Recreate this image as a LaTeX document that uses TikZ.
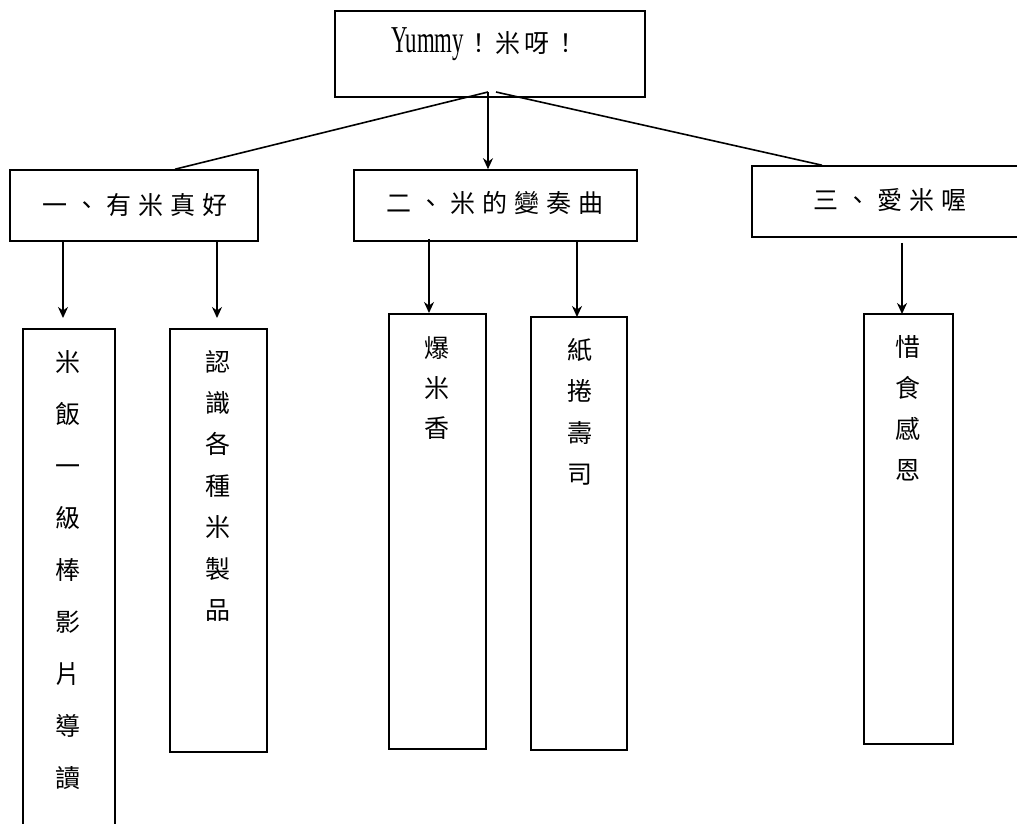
\documentclass[tikz,border=0pt]{standalone}
\usepackage{fontspec}
\setmainfont{Liberation Serif}
\newfontfamily\cjk{Noto Sans CJK TC}
\usetikzlibrary{arrows.meta}
\newcommand\cg{\kern7pt}
\tikzset{
  box/.style={draw, line width=1.6pt, fill=white, inner sep=0pt},
  conn/.style={line width=1.6pt},
  arr/.style={line width=1.6pt, -{Stealth[length=11pt,width=10pt,inset=3.5pt]}},
  head/.style={font=\cjk\fontsize{25}{30}\selectfont, inner sep=0pt},
  vtext/.style={align=center, inner sep=0pt, anchor=north},
}
\begin{document}
\begin{tikzpicture}[x=1pt,y=-1pt]
\useasboundingbox (0,0) rectangle (1017,823);
% boxes
\node[box, minimum width=310pt, minimum height=86pt] (top) at (490,54) {};
\node[box, minimum width=248pt, minimum height=71pt] (h1) at (134,205.5) {};
\node[box, minimum width=283pt, minimum height=71pt] (h2) at (495.5,205.5) {};
\node[box, minimum width=276pt, minimum height=71pt] (h3) at (890,201.5) {};
\node[box, minimum width=92pt, minimum height=531pt] (l1) at (69,594.5) {};
\node[box, minimum width=97pt, minimum height=423pt] (l2) at (218.5,540.5) {};
\node[box, minimum width=97pt, minimum height=435pt] (l3) at (437.5,531.5) {};
\node[box, minimum width=96pt, minimum height=433pt] (l4) at (579,533.5) {};
\node[box, minimum width=89pt, minimum height=430pt] (l5) at (908.5,529) {};
% texts
\node[inner sep=0pt] (ttop) at (485,44) {\scalebox{0.6}[1]{\fontsize{38}{40}\selectfont Yummy}\cjk\fontsize{25}{30}\selectfont\kern2pt！\kern4pt米\kern4pt呀\kern4pt！};
\node[head] (th1) at (135,205) {一\cg{}、\cg{}有\cg{}米\cg{}真\cg{}好};
\node[head] (th2) at (495,203) {二\cg{}、\cg{}米\cg{}的\cg{}變\cg{}奏\cg{}曲};
\node[head] (th3) at (890,200) {三\cg{}、\cg{}愛\cg{}米\cg{}喔};
\node[vtext, font=\cjk\fontsize{25}{52}\selectfont] (tl1) at (68,350) {米\\飯\\一\\級\\棒\\影\\片\\導\\讀};
\node[vtext, font=\cjk\fontsize{25}{41.4}\selectfont] (tl2) at (218,350) {認\\識\\各\\種\\米\\製\\品};
\node[vtext, font=\cjk\fontsize{25}{40}\selectfont] (tl3) at (437,336) {爆\\米\\香};
\node[vtext, font=\cjk\fontsize{25}{41.5}\selectfont] (tl4) at (580,338) {紙\\捲\\壽\\司};
\node[vtext, font=\cjk\fontsize{25}{41}\selectfont] (tl5) at (908,335) {惜\\食\\感\\恩};
% connectors from the title
\coordinate (topL) at (488,92);
\coordinate (topR) at (496,92);
\draw[conn] (topL) -- ([xshift=41pt]h1.north);
\draw[conn] (topR) -- ([xshift=-68pt]h3.north);
\draw[arr] (topL) -- (topL |- h2.north);
% arrow tips
\coordinate (a1) at (63,318);
\coordinate (a2) at (217,318);
\coordinate (a3) at (429,313);
\coordinate (a4) at (577,317);
\coordinate (a5) at (902,314);
\draw[arr] (h1.south -| a1) -- (a1);
\draw[arr] (h1.south -| a2) -- (a2);
\draw[arr, shorten <=-3pt] (h2.south -| a3) -- (a3);
\draw[arr] (h2.south -| a4) -- (a4);
\draw[arr, shorten <=5pt] (h3.south -| a5) -- (a5);
\end{tikzpicture}
\end{document}
